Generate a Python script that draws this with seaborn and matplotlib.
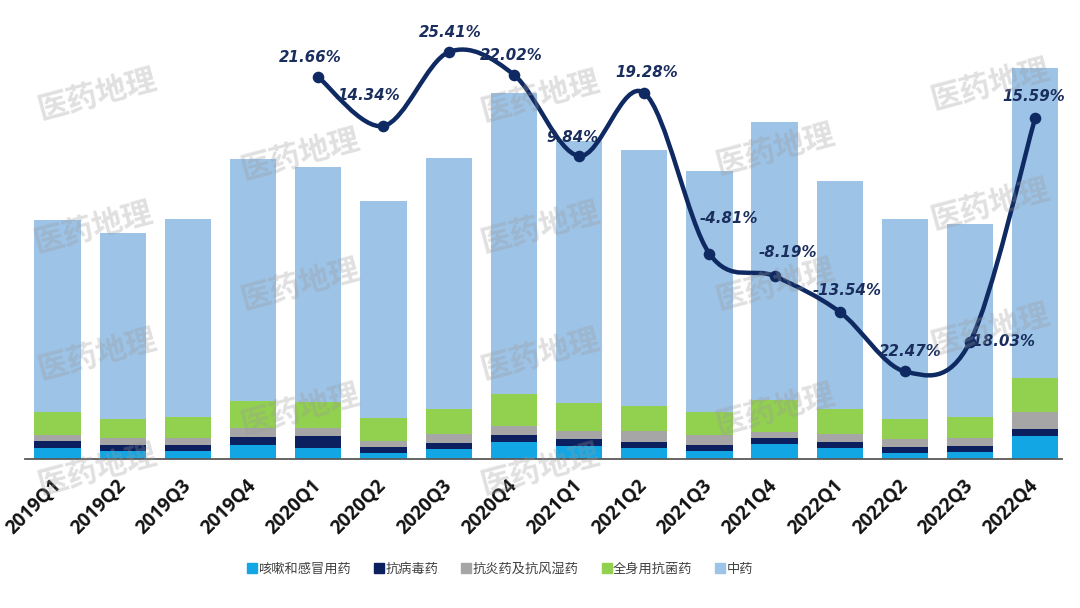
import numpy as np
import pandas as pd
import matplotlib
matplotlib.use("Agg")
import matplotlib.pyplot as plt
from matplotlib.path import Path
from matplotlib.patches import PathPatch
from matplotlib.lines import Line2D
from matplotlib.transforms import ScaledTranslation
import seaborn as sns

# ---------------- data ----------------
quarters = ["2019Q1", "2019Q2", "2019Q3", "2019Q4",
            "2020Q1", "2020Q2", "2020Q3", "2020Q4",
            "2021Q1", "2021Q2", "2021Q3", "2021Q4",
            "2022Q1", "2022Q2", "2022Q3", "2022Q4"]
series_names = ["咳嗽和感冒用药", "抗病毒药", "抗炎药及抗风湿药", "全身用抗菌药", "中药"]
cough = [11, 8, 8, 14, 11, 5.7, 10, 16.7, 13.3, 10.7, 8, 14.7, 10.7, 6.3, 7.3, 23.3]
antiviral = [6.7, 6, 6, 8.3, 11.7, 6, 6, 7.3, 6.3, 6.7, 6, 6, 6.7, 6, 5.7, 6.7]
antiinflam = [6.7, 7, 7, 9, 8, 6.7, 9, 9.3, 8.7, 11, 10, 6.7, 7.3, 7.3, 7.7, 17.3]
antibacterial = [23, 19, 21, 26.7, 26.3, 22.7, 25, 31.7, 27.3, 24.7, 23.3, 31.7, 25, 20, 21, 33.3]
tcm = [192, 185.7, 197.7, 242, 234.7, 217.3, 251.3, 301.3, 263, 256, 240.7, 278, 228.3, 200.3, 193.3, 310.3]

growth_quarters = quarters[4:]
growth = [21.66, 14.34, 25.41, 22.02, 9.84, 19.28, -4.81, -8.19, -13.54, -22.47, -18.03, 15.59]
growth_labels = ["21.66%", "14.34%", "25.41%", "22.02%", "9.84%", "19.28%",
                 "-4.81%", "-8.19%", "-13.54%", "22.47%", "-18.03%", "15.59%"]

# ---------------- style ----------------
colors = ["#12A6E4", "#0C1F5E", "#A6A6A6", "#92D050", "#9DC3E6"]
line_color = "#0F2A62"
label_offsets_px = [(-8, 20), (-15, 30), (2, 20), (-3, 19), (-7, 18), (3, 21),
                    (19, 35), (13, 24), (7, 21), (5, 20), (31, 0), (-2, 21)]

sns.set_theme(style="white")
plt.rcParams["font.family"] = ["Noto Sans CJK SC", "DejaVu Sans"]

fig = plt.figure(figsize=(10.8, 6.08), dpi=100)
ax = fig.add_axes([25 / 1080, 0.245, 1037 / 1080, 0.689])

df = pd.DataFrame({"q": quarters, "s0": cough, "s1": antiviral, "s2": antiinflam,
                   "s3": antibacterial, "s4": tcm})
cum = df[["s0", "s1", "s2", "s3", "s4"]].cumsum(axis=1)
for i in range(4, -1, -1):
    sns.barplot(x=df["q"], y=cum[f"s{i}"], order=quarters, color=colors[i],
                saturation=1, width=0.71, ax=ax, zorder=2, linewidth=0,
                edgecolor="none")

ax.set_ylim(0, 419)
ax.set_xlim(-0.5, 15.41)
ax.set_xlabel("")
ax.set_ylabel("")
ax.set_yticks([])
for s in ["top", "right", "left"]:
    ax.spines[s].set_visible(False)
ax.spines["bottom"].set_color("#595959")
ax.spines["bottom"].set_linewidth(1.3)
ax.tick_params(axis="x", length=0, pad=12)
ax.set_xticks(range(len(quarters)))
ax.set_xticklabels(quarters, rotation=45, ha="right", va="top",
                   rotation_mode="anchor", fontsize=13.5, fontweight="bold",
                   color="#111111", family=["Open Sans", "DejaVu Sans"])
shift = ScaledTranslation(-7 / 100, 0, fig.dpi_scale_trans)
for lbl in ax.get_xticklabels():
    lbl.set_transform(lbl.get_transform() + shift)

# ---------------- growth line ----------------
ax2 = ax.twinx()
ax2.set_ylim(-35.61, 27.21)
ax2.axis("off")

gx = np.array([quarters.index(q) for q in growth_quarters], dtype=float)
gy = np.array(growth, dtype=float)
pts = np.column_stack([gx, gy])
verts = [tuple(pts[0])]
codes = [Path.MOVETO]
n = len(pts)
for k in range(n - 1):
    p0 = pts[k - 1] if k > 0 else pts[k]
    p1 = pts[k]
    p2 = pts[k + 1]
    p3 = pts[k + 2] if k + 2 < n else pts[k + 1]
    c1 = p1 + (p2 - p0) / 6.0
    c2 = p2 - (p3 - p1) / 6.0
    verts += [tuple(c1), tuple(c2), tuple(p2)]
    codes += [Path.CURVE4] * 3
ax2.add_patch(PathPatch(Path(verts, codes), facecolor="none", edgecolor=line_color,
                        lw=3.2, zorder=4, capstyle="round", joinstyle="round"))
sns.scatterplot(x=gx, y=gy, ax=ax2, color=line_color, s=70, edgecolor=line_color,
                linewidth=0, zorder=5, legend=False)
ax2.set_xlim(-0.5, 15.41)

for (x, y, t, off) in zip(gx, gy, growth_labels, label_offsets_px):
    ax2.annotate(t, (x, y), xytext=(off[0], off[1]), textcoords="offset pixels",
                 ha="center", va="center", fontsize=10.8, fontweight="bold",
                 fontstyle="italic", color="#1A2E5E",
                 family=["DejaVu Sans"], zorder=6)

# ---------------- watermarks ----------------
wm_positions = [(97, 95), (93, 228), (97, 355), (97, 470),
                (300, 155), (300, 285), (300, 410),
                (540, 97), (540, 228), (540, 355), (540, 470),
                (775, 150), (775, 285), (775, 410),
                (990, 85), (990, 205), (990, 330)]
for (px, py) in wm_positions:
    fig.text(px / 1080, 1 - py / 608, "医药地理", fontsize=22, fontweight="bold",
             color="#9A9A9A", alpha=0.3, rotation=15, ha="center", va="center",
             zorder=10)

# ---------------- legend ----------------
handles = [Line2D([0], [0], marker="s", linestyle="none", markersize=6.5,
                  markerfacecolor=c, markeredgecolor=c) for c in colors]
fig.legend(handles, series_names, loc="center", bbox_to_anchor=(500 / 1080, 0.064),
           ncol=5, frameon=False, fontsize=9.5, handletextpad=0.1,
           columnspacing=1.7, labelcolor="#404040", handlelength=0.8)

fig.savefig("out.png", dpi=100)
